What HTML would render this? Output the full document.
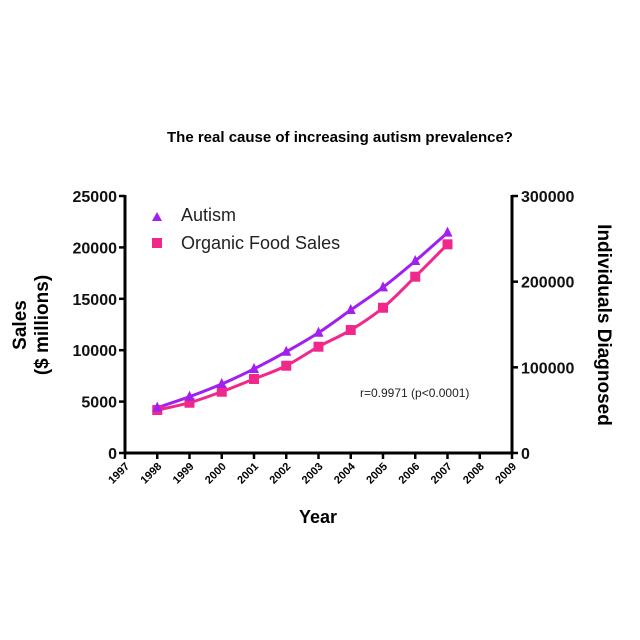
<!DOCTYPE html>
<html><head><meta charset="utf-8"><style>
body{margin:0;background:#fff;}
svg{display:block;font-family:"Liberation Sans",Arial,sans-serif;}
</style></head><body>
<svg id="chart" width="640" height="640" viewBox="0 0 640 640">
<text x="340" y="142" text-anchor="middle" font-size="15" font-weight="bold">The real cause of increasing autism prevalence?</text>
<g id="axes"></g>
<g id="marks"></g>
<text transform="translate(26,325) rotate(-90)" text-anchor="middle" font-size="19" font-weight="bold">Sales</text>
<text transform="translate(48,325) rotate(-90)" text-anchor="middle" font-size="19" font-weight="bold">($ millions)</text>
<text transform="translate(598,325) rotate(90)" text-anchor="middle" font-size="19" font-weight="bold">Individuals Diagnosed</text>
<text x="318" y="523" text-anchor="middle" font-size="18" font-weight="bold">Year</text>
<g>
<polygon points="157,212 152,221 162,221" fill="#a020f0"/>
<text x="181" y="221" font-size="18" fill="#222">Autism</text>
<rect x="152" y="238" width="10" height="10" fill="#f0288c"/>
<text x="181" y="249" font-size="18" fill="#222">Organic Food Sales</text>
</g>
<text x="360" y="397" font-size="12" fill="#222">r=0.9971 (p&lt;0.0001)</text>
</svg>
<script>
const years=[1998,1999,2000,2001,2002,2003,2004,2005,2006,2007];
const autism=[52900,65700,80500,98100,118200,140400,166900,193400,224100,257200];
const organic=[4180,4890,5960,7200,8490,10340,11960,14130,17150,20300];
const xTicks=[1997,1998,1999,2000,2001,2002,2003,2004,2005,2006,2007,2008,2009];
const leftTicks=[0,5000,10000,15000,20000,25000];
const rightTicks=[0,100000,200000,300000];
const NS="http://www.w3.org/2000/svg";
const L=125,R=512,T=196,B=453;
const x=v=>L+(v-1997)/(2009-1997)*(R-L);
const yl=v=>B-v/25000*(B-T);
const yr=v=>B-v/300000*(B-T);
function mk(tag,attrs,parent){const e=document.createElementNS(NS,tag);for(const k in attrs)e.setAttribute(k,attrs[k]);parent.appendChild(e);return e;}
const ax=document.getElementById('axes'),mg=document.getElementById('marks');
let e;
e=mk('line',{x1:L,y1:T-1,x2:L,y2:B+1,stroke:'#000','stroke-width':3},ax);


e=mk('line',{x1:R,y1:T-1,x2:R,y2:B+1,stroke:'#000','stroke-width':3},ax);


e=mk('line',{x1:L,y1:B,x2:R,y2:B,stroke:'#000','stroke-width':3},ax);


leftTicks.forEach(v=>{
 mk('line',{x1:L-6,y1:yl(v),x2:L,y2:yl(v),stroke:'#000','stroke-width':2.5},ax);
 e=mk('text',{x:L-8,y:yl(v)+6,'text-anchor':'end','font-size':16,'font-weight':'bold','fill':'#111'},ax);e.textContent=v;
 
 
});
rightTicks.forEach(v=>{
 mk('line',{x1:R,y1:yr(v),x2:R+6,y2:yr(v),stroke:'#000','stroke-width':2.5},ax);
 e=mk('text',{x:R+9,y:yr(v)+6,'font-size':16,'font-weight':'bold','fill':'#111'},ax);e.textContent=v;
 
 
});
xTicks.forEach(v=>{
 mk('line',{x1:x(v),y1:B,x2:x(v),y2:B+6,stroke:'#000','stroke-width':2.5},ax);
 e=mk('text',{transform:`translate(${x(v)+5},${B+14}) rotate(-45)`,'text-anchor':'end','font-size':11,'font-weight':'bold'},ax);e.textContent=v;
 
 
});
function smooth(pts){let d=`M${pts[0][0]},${pts[0][1]}`;for(let i=0;i<pts.length-1;i++){const p0=pts[i-1]||pts[i],p1=pts[i],p2=pts[i+1],p3=pts[i+2]||p2;
 d+=` C${p1[0]+(p2[0]-p0[0])/6},${p1[1]+(p2[1]-p0[1])/6} ${p2[0]-(p3[0]-p1[0])/6},${p2[1]-(p3[1]-p1[1])/6} ${p2[0]},${p2[1]}`;}return d;}
const op=years.map((yv,i)=>[x(yv),yl(organic[i])]);
const ap=years.map((yv,i)=>[x(yv),yr(autism[i])]);
e=mk('path',{d:smooth(op),fill:'none',stroke:'#f0288c','stroke-width':3},mg);


e=mk('path',{d:smooth(ap),fill:'none',stroke:'#a020f0','stroke-width':3},mg);


op.forEach(p=>{e=mk('rect',{x:p[0]-5,y:p[1]-5,width:10,height:10,fill:'#f0288c'},mg);
 
 });
ap.forEach(p=>{e=mk('polygon',{points:`${p[0]},${p[1]-6} ${p[0]-5},${p[1]+4} ${p[0]+5},${p[1]+4}`,fill:'#a020f0'},mg);
 
 });
</script>
</body></html>
